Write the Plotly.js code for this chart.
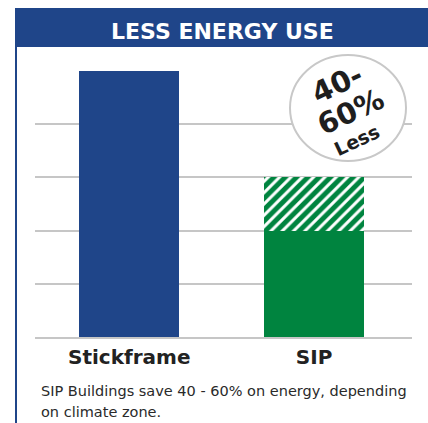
<!DOCTYPE html>
<html>
<head>
<meta charset="utf-8">
<script src="https://cdn.plot.ly/plotly-3.0.1.min.js"></script>
<style>
  html, body { margin: 0; padding: 0; background: #ffffff; }
  #chart { width: 428px; height: 423px; }
</style>
</head>
<body>
<div id="chart"></div>
<script>
// ---- data ----
const categories = ['Stickframe', 'SIP'];
const energyUse = [5, 2];          // solid portion (relative units)
const savingsBand = [0, 1];        // hatched 40-60% band on SIP
const barColors = ['#1f4589', '#00843f'];
const titleText = 'LESS ENERGY USE';
const badgeLines = ['40-', '60%', 'Less'];
const captionLines = ['SIP Buildings save 40 - 60% on energy, depending', 'on climate zone.'];

// ---- layout helpers (pixel -> paper) ----
const W = 428, H = 423;
const M = { l: 35, r: 16, t: 71, b: 86 };
const PW = W - M.l - M.r, PH = H - M.t - M.b;
const px = x => (x - M.l) / PW;
const py = y => (H - M.b - y) / PH;

const blue = '#1f4589';
const green = '#00843f';
const grid = '#c6c6c6';
const ink = '#1e1e1e';
const FONT = '"DejaVu Sans", sans-serif';

const traces = [
  {
    type: 'bar',
    x: categories,
    y: energyUse,
    width: 0.54,
    marker: { color: barColors, line: { width: 0 } },
    hoverinfo: 'skip'
  },
  {
    type: 'bar',
    x: categories,
    y: savingsBand,
    width: 0.54,
    marker: {
      color: green,
      line: { width: 0 },
      pattern: { shape: '/', fgcolor: '#ffffff', bgcolor: green, size: 8, solidity: 0.38 }
    },
    hoverinfo: 'skip'
  }
];

const annotations = [
  {
    text: '<b>' + titleText + '</b>', xref: 'paper', yref: 'paper',
    x: px(222), y: py(31), showarrow: false, xanchor: 'center', yanchor: 'middle',
    font: { family: FONT, size: 22, color: '#ffffff' }
  },
  {
    text: '<b>' + badgeLines[0] + '</b>', xref: 'paper', yref: 'paper',
    x: px(337), y: py(84), showarrow: false, xanchor: 'center', yanchor: 'middle',
    textangle: -25, font: { family: FONT, size: 29, color: ink }
  },
  {
    text: '<b>' + badgeLines[1] + '</b>', xref: 'paper', yref: 'paper',
    x: px(350), y: py(112), showarrow: false, xanchor: 'center', yanchor: 'middle',
    textangle: -25, font: { family: FONT, size: 29, color: ink }
  },
  {
    text: '<b>' + badgeLines[2] + '</b>', xref: 'paper', yref: 'paper',
    x: px(357), y: py(140), showarrow: false, xanchor: 'center', yanchor: 'middle',
    textangle: -25, font: { family: FONT, size: 19, color: ink }
  },
  {
    text: captionLines[0], xref: 'paper', yref: 'paper',
    x: px(39), y: py(391), showarrow: false, xanchor: 'left', yanchor: 'middle', align: 'left',
    font: { family: FONT, size: 14.5, color: '#2a2a2a' }
  },
  {
    text: captionLines[1], xref: 'paper', yref: 'paper',
    x: px(39), y: py(412), showarrow: false, xanchor: 'left', yanchor: 'middle', align: 'left',
    font: { family: FONT, size: 14.5, color: '#2a2a2a' }
  }
];

const shapes = [
  // header band
  { type: 'rect', xref: 'paper', yref: 'paper', x0: px(15), x1: px(430), y0: py(47), y1: py(8),
    fillcolor: blue, line: { width: 0 }, layer: 'above' },
  // left border
  { type: 'line', xref: 'paper', yref: 'paper', x0: px(16), x1: px(16), y0: py(47), y1: py(425),
    line: { color: blue, width: 2 }, layer: 'above' },
  // badge circle
  { type: 'circle', xref: 'paper', yref: 'paper', x0: px(290), x1: px(406), y0: py(161), y1: py(55),
    fillcolor: '#ffffff', line: { color: '#c8c8c8', width: 2 }, layer: 'above' }
];

const layout = {
  width: W, height: H,
  margin: M,
  paper_bgcolor: '#ffffff', plot_bgcolor: '#ffffff',
  barmode: 'stack',
  showlegend: false,
  xaxis: {
    type: 'category',
    range: [-0.51, 1.53],
    showgrid: false, zeroline: false,
    showline: true, linecolor: grid, linewidth: 2,
    ticks: '', ticklabelstandoff: 1,
    tickfont: { family: FONT, size: 20, color: '#222222', weight: 'bold' },
    fixedrange: true
  },
  yaxis: {
    range: [0, 5], dtick: 1, tick0: 0,
    showgrid: true, gridcolor: grid, gridwidth: 2,
    zeroline: false, showticklabels: false, ticks: '',
    fixedrange: true
  },
  shapes: shapes,
  annotations: annotations
};

Plotly.newPlot('chart', traces, layout, { displayModeBar: false, staticPlot: true });
</script>
</body>
</html>
